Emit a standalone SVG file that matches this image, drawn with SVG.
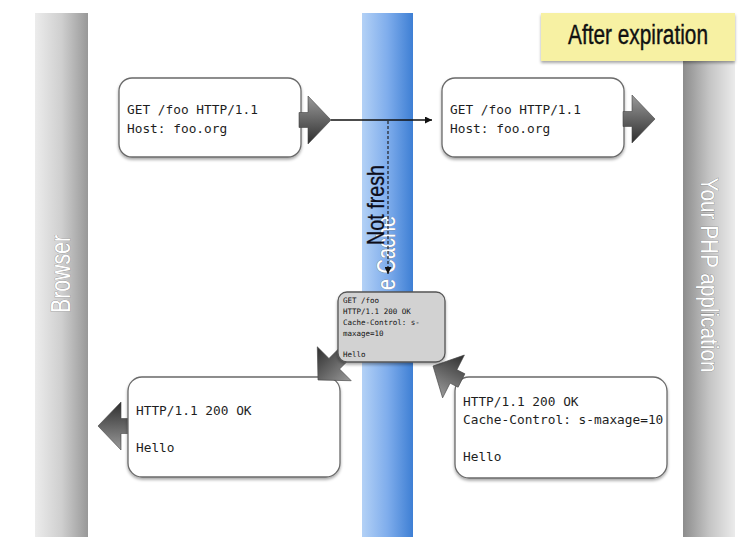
<svg xmlns="http://www.w3.org/2000/svg" width="751" height="545" viewBox="0 0 751 545">
  <defs>
    <linearGradient id="gLeft" x1="0" y1="0" x2="1" y2="0">
      <stop offset="0" stop-color="#ececec"/>
      <stop offset="0.5" stop-color="#cfcfcf"/>
      <stop offset="1" stop-color="#989898"/>
    </linearGradient>
    <linearGradient id="gRight" x1="0" y1="0" x2="1" y2="0">
      <stop offset="0" stop-color="#8c8c8c"/>
      <stop offset="0.5" stop-color="#c4c4c4"/>
      <stop offset="1" stop-color="#ebebeb"/>
    </linearGradient>
    <linearGradient id="gBlue" x1="0" y1="0" x2="1" y2="0">
      <stop offset="0" stop-color="#b3d1f6"/>
      <stop offset="0.5" stop-color="#7fadec"/>
      <stop offset="1" stop-color="#3e7fd4"/>
    </linearGradient>
    <linearGradient id="gArrow" x1="0" y1="0" x2="0" y2="1">
      <stop offset="0" stop-color="#9a9a9a"/>
      <stop offset="1" stop-color="#2e2e2e"/>
    </linearGradient>
    <filter id="shadow" x="-10%" y="-10%" width="120%" height="130%">
      <feDropShadow dx="0" dy="2" stdDeviation="1.5" flood-color="#000" flood-opacity="0.35"/>
    </filter>
    <marker id="ah" viewBox="0 0 10 10" refX="10" refY="5" markerWidth="7" markerHeight="7" orient="auto" markerUnits="userSpaceOnUse">
      <path d="M0,0 L10,5 L0,10 Z" fill="#111"/>
    </marker>
    <path id="blockArrow" d="M-32,-7.5 L-23,-7.5 L-23,-24 L0,0 L-23,24 L-23,7.5 L-32,7.5 Z"/>
    <path id="blockArrowLong" d="M-44,-7.5 L-23,-7.5 L-23,-24 L0,0 L-23,24 L-23,7.5 L-44,7.5 Z"/>
  </defs>
  <style>
    .box { fill: #ffffff; stroke: #6a6a6a; stroke-width: 1.3; filter: url(#shadow); }
    .small { fill: #d2d2d2; stroke: #555555; stroke-width: 1.3; filter: url(#shadow); }
    .mono { font-family: "DejaVu Sans Mono", "Liberation Mono", monospace; font-size: 12.8px; fill: #1e1e1e; }
    .tiny { font-family: "DejaVu Sans Mono", "Liberation Mono", monospace; font-size: 7.5px; fill: #111; }
    .lane { font-family: "Liberation Sans", Arial, sans-serif; fill: #ffffff; stroke: #7a7a7a; stroke-width: 0.6; paint-order: stroke; }
    .arrow { fill: url(#gArrow); stroke: #444; stroke-width: 0.6; }
  </style>

  <rect width="751" height="545" fill="#ffffff"/>

  <!-- lanes -->
  <g id="lane-browser">
    <rect x="35" y="13" width="53" height="524" fill="url(#gLeft)"/>
    <text class="lane" font-size="28" text-anchor="middle" textLength="78" lengthAdjust="spacingAndGlyphs" transform="translate(70,274) rotate(-90)">Browser</text>
  </g>
  <g id="lane-cache">
    <rect x="362" y="13" width="51" height="524" fill="url(#gBlue)"/>
    <text class="lane" font-size="25" stroke="none" text-anchor="start" textLength="74" lengthAdjust="spacingAndGlyphs" transform="translate(395,290) rotate(-90)">e Cache</text>
  </g>
  <g id="lane-app">
    <rect x="683" y="61" width="52" height="476" fill="url(#gRight)"/>
    <text class="lane" font-size="23" text-anchor="middle" textLength="195" lengthAdjust="spacingAndGlyphs" transform="translate(701,275) rotate(90)">Your PHP application</text>
  </g>
  <g id="title">
    <rect x="541" y="13" width="194" height="48" fill="#f7f1a3" filter="url(#shadow)"/>
    <text x="638" y="44" font-family="Liberation Sans, Arial, sans-serif" font-size="27" fill="#111" stroke="#111" stroke-width="0.4" text-anchor="middle" textLength="140" lengthAdjust="spacingAndGlyphs">After expiration</text>
  </g>

  <!-- connectors -->
  <g id="connectors">
    <use href="#blockArrow" class="arrow" transform="translate(98,426) rotate(180)"/>
    <line x1="331" y1="120" x2="432" y2="120" stroke="#111" stroke-width="1.5" marker-end="url(#ah)"/>
    <line x1="388" y1="121" x2="388" y2="274" stroke="#222" stroke-width="1.2" stroke-dasharray="3,2" marker-end="url(#ah)"/>
    <text x="0" y="0" font-family="Liberation Sans, Arial, sans-serif" font-size="24" fill="#0d0d1a" stroke="#0d0d1a" stroke-width="0.3" textLength="80" lengthAdjust="spacingAndGlyphs" transform="translate(384,245) rotate(-90)">Not fresh</text>
  </g>

  <g id="req-browser">
    <rect class="box" x="119" y="78" width="182" height="79" rx="13"/>
    <text class="mono" x="127" y="114">GET /foo HTTP/1.1</text>
    <text class="mono" x="127" y="133">Host: foo.org</text>
  </g>
  <use href="#blockArrow" class="arrow" transform="translate(331,120)"/>

  <g id="req-app">
    <rect class="box" x="442" y="78" width="182" height="79" rx="13"/>
    <text class="mono" x="450" y="114">GET /foo HTTP/1.1</text>
    <text class="mono" x="450" y="133">Host: foo.org</text>
  </g>
  <use href="#blockArrow" class="arrow" transform="translate(655,119)"/>

  <g id="resp-browser">
    <rect class="box" x="128" y="377" width="212" height="100" rx="14"/>
    <text class="mono" x="136" y="415">HTTP/1.1 200 OK</text>
    <text class="mono" x="136" y="452">Hello</text>
  </g>

  <g id="resp-app">
    <rect class="box" x="455" y="377" width="212" height="101" rx="14"/>
    <text class="mono" x="463" y="406">HTTP/1.1 200 OK</text>
    <text class="mono" x="463" y="424">Cache-Control: s-maxage=10</text>
    <text class="mono" x="463" y="461">Hello</text>
  </g>

  <use href="#blockArrowLong" class="arrow" transform="translate(318,380) rotate(135)"/>
  <use href="#blockArrow" class="arrow" transform="translate(433,366) rotate(207)"/>

  <g id="cache-response">
    <rect class="small" x="338" y="292" width="107" height="70" rx="9"/>
    <text class="tiny" x="343" y="303">GET /foo</text>
    <text class="tiny" x="343" y="314">HTTP/1.1 200 OK</text>
    <text class="tiny" x="343" y="325">Cache-Control: s-</text>
    <text class="tiny" x="343" y="336">maxage=10</text>
    <text class="tiny" x="343" y="357">Hello</text>
  </g>
</svg>
